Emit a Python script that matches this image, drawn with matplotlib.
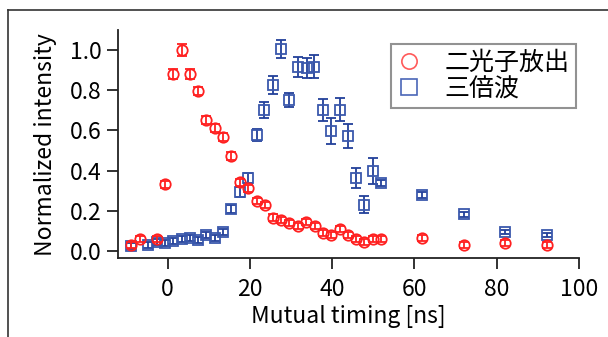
import matplotlib
matplotlib.use("Agg")
import matplotlib.pyplot as plt
from matplotlib.lines import Line2D

plt.rcParams['font.family'] = ['Noto Sans CJK JP', 'DejaVu Sans']

# ---- data ----
red_x = [-9, -6.7, -2.7, -0.6, 1.4, 3.4, 5.5, 7.4, 9.4, 11.4, 13.5, 15.5, 17.5, 19.6,
         21.6, 23.6, 25.5, 27.5, 29.6, 31.6, 33.7, 35.7, 37.7, 39.8, 41.8, 43.8, 45.8,
         47.8, 49.8, 51.8, 61.9, 72.0, 82.0, 92.2]
red_y = [0.03, 0.058, 0.058, 0.333, 0.883, 1.0, 0.883, 0.797, 0.653, 0.612, 0.567, 0.472,
         0.342, 0.312, 0.25, 0.228, 0.167, 0.155, 0.138, 0.125, 0.145, 0.125, 0.09, 0.078,
         0.11, 0.08, 0.062, 0.045, 0.058, 0.062, 0.063, 0.03, 0.042, 0.03]
red_err = [0.015, 0.015, 0.015, 0.018, 0.025, 0.03, 0.025, 0.02, 0.02, 0.02, 0.02, 0.02,
           0.018, 0.018, 0.016, 0.016, 0.015, 0.015, 0.015, 0.015, 0.015, 0.015, 0.015, 0.015,
           0.015, 0.015, 0.015, 0.015, 0.015, 0.015, 0.015, 0.015, 0.015, 0.015]

blue_x = [-9, -4.7, -2.7, -0.6, 1.4, 3.4, 5.5, 7.4, 9.4, 11.4, 13.5, 15.5, 17.5, 19.6,
          21.6, 23.4, 25.5, 27.5, 29.6, 31.6, 33.8, 35.6, 37.7, 39.8, 41.8, 43.8, 45.8,
          47.8, 49.8, 51.8, 61.9, 72.0, 82.0, 92.2]
blue_y = [0.025, 0.028, 0.045, 0.038, 0.05, 0.058, 0.067, 0.055, 0.078, 0.063, 0.097, 0.208,
          0.292, 0.363, 0.578, 0.70, 0.828, 1.005, 0.75, 0.917, 0.91, 0.917, 0.703, 0.598,
          0.703, 0.572, 0.363, 0.23, 0.40, 0.337, 0.28, 0.183, 0.095, 0.08]
blue_err = [0.015, 0.015, 0.015, 0.015, 0.015, 0.015, 0.015, 0.015, 0.015, 0.015, 0.015, 0.02,
            0.025, 0.025, 0.03, 0.04, 0.045, 0.045, 0.035, 0.05, 0.05, 0.058, 0.055, 0.063,
            0.057, 0.058, 0.05, 0.043, 0.065, 0.015, 0.015, 0.012, 0.012, 0.012]

labels = ['二光子放出', '三倍波']
x_ticks = [0, 20, 40, 60, 80, 100]
y_ticks = [0.0, 0.2, 0.4, 0.6, 0.8, 1.0]

red = '#ff2020'
blue_bar = '#22409a'
blue_mk = '#3a58ac'

fig = plt.figure(figsize=(6.08, 3.37), dpi=100)
ax = fig.add_axes([0.1946, 0.2335, 0.7577, 0.6775])

ax.errorbar(blue_x, blue_y, yerr=blue_err, fmt='s', ms=7, mfc='none', mec=blue_mk, mew=1.3,
            ecolor=blue_bar, elinewidth=1.3, capsize=3.6, capthick=1.3, zorder=2)
ax.errorbar(red_x, red_y, yerr=red_err, fmt='o', ms=7.5, mfc='none', mec=red, mew=1.3,
            ecolor=red, elinewidth=1.3, capsize=3.4, capthick=1.3, zorder=3)

ax.set_xlim(-12, 100)
ax.set_ylim(-0.036, 1.10)
ax.set_xticks(x_ticks)
ax.set_yticks(y_ticks)
ax.set_yticklabels([f'{v:.1f}' for v in y_ticks])
ax.spines['top'].set_visible(False)
ax.spines['right'].set_visible(False)
for s in ('left', 'bottom'):
    ax.spines[s].set_linewidth(1.3)
    ax.spines[s].set_color('#222222')
ax.tick_params(axis='both', direction='out', length=8, width=1.3, color='#222222',
               labelsize=16.5, pad=4)
ax.tick_params(axis='x', pad=6)
ax.set_xlabel('Mutual timing [ns]', fontsize=16.5, labelpad=3)
ax.set_ylabel('Normalized intensity', fontsize=16.5, labelpad=9)

handles = [Line2D([], [], ls='none', marker='o', ms=11, mfc='none', mec='#ff5a5a', mew=1.2),
           Line2D([], [], ls='none', marker='s', ms=11, mfc='none', mec='#4a66b8', mew=1.2)]
leg = ax.legend(handles, labels, loc='upper right', bbox_to_anchor=(0.9935, 0.9387),
                borderaxespad=0, fontsize=18, frameon=True, fancybox=False,
                handlelength=0.96, handletextpad=0.95, borderpad=0.25, labelspacing=0.0)
leg.get_frame().set_edgecolor('#777777')
leg.get_frame().set_linewidth(1.5)

# outer frame lines
fig.add_artist(Line2D([8/608, 1.0], [1 - 10/337, 1 - 10/337], transform=fig.transFigure,
                      color='#333333', lw=1.2))
fig.add_artist(Line2D([8/608, 8/608], [0, 1 - 10/337], transform=fig.transFigure,
                      color='#333333', lw=1.2))

fig.savefig('out.png', dpi=100)
